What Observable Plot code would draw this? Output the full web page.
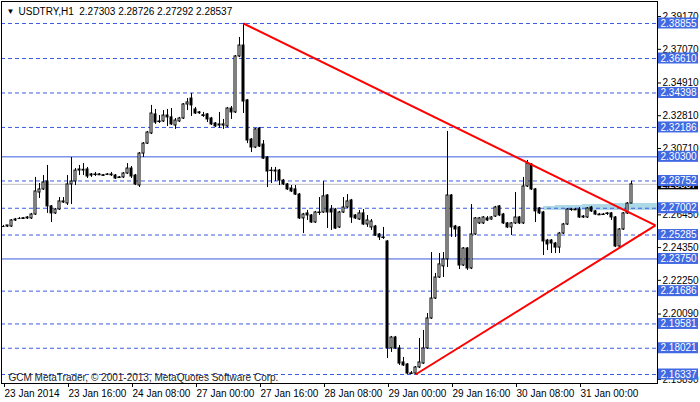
<!DOCTYPE html>
<html><head><meta charset="utf-8">
<script src="https://cdn.jsdelivr.net/npm/d3@7"></script>
<script src="https://cdn.jsdelivr.net/npm/@observablehq/plot@0.6"></script>
<style>body{margin:0;background:#fff;} svg{display:block;}</style>
</head><body><div id="chart"></div>
<script>
// ---- data (USDTRY, H1) ----
const titleText = "USDTRY,H1  2.27303 2.28726 2.27292 2.28537";
const copyright = "GCM MetaTrader, \u00A9 2001-2013, MetaQuotes Software Corp.";
const tickIdx = [0, 16, 32, 48, 64, 80, 96, 112, 128, 144];
const xLabels = ["23 Jan 2014", "23 Jan 16:00", "24 Jan 08:00", "27 Jan 00:00", "27 Jan 16:00",
  "28 Jan 08:00", "29 Jan 00:00", "29 Jan 16:00", "30 Jan 08:00", "31 Jan 00:00"];
const yTicks = [2.39170, 2.37070, 2.34910, 2.32810, 2.30710, 2.26450, 2.24350, 2.22250, 2.20090, 2.15890];
const dashedLevels = [2.38855, 2.36610, 2.34398, 2.32186, 2.28752, 2.27002, 2.25285, 2.21686, 2.19581, 2.18021, 2.16337];
const solidLevels = [2.30300, 2.23750];
const lastPrice = 2.28537;

const open = [
2.2583,2.2583,2.2583,2.2622,2.2635,2.2633,2.2635,2.2635,2.2660,2.2801,
2.2821,2.2872,2.2712,2.2667,2.2692,2.2737,2.2731,2.2853,2.2872,2.2942,
2.2942,2.2949,2.2917,2.2915,2.2917,2.2910,2.2914,2.2917,2.2910,2.2896,
2.2898,2.2923,2.2955,2.2910,2.2846,2.3051,2.3115,2.3180,2.3302,2.3255,
2.3257,2.3295,2.3283,2.3231,2.3257,2.3276,2.3366,2.3404,2.3334,2.3315,
2.3297,2.3302,2.3276,2.3244,2.3238,2.3231,2.3225,2.3340,2.3315,2.3674,
2.3744,2.3392,2.3141,2.3090,2.3212,2.3109,2.3026,2.2940,2.2936,2.2942,
2.2878,2.2853,2.2827,2.2821,2.2788,2.2635,2.2667,2.2654,2.2609,2.2671,
2.2673,2.2782,2.2692,2.2692,2.2577,2.2673,2.2705,2.2750,2.2654,2.2628,
2.2667,2.2596,2.2577,2.2583,2.2532,2.2511,2.2487,2.1801,2.1871,2.1801,
2.1711,2.1698,2.1638,2.1640,2.1679,2.1704,2.1801,2.1993,2.2121,2.2256,
2.2327,2.2372,2.2782,2.2583,2.2577,2.2333,2.2442,2.2314,2.2532,2.2603,
2.2603,2.2635,2.2628,2.2647,2.2712,2.2660,2.2603,2.2577,2.2603,2.2641,
2.2603,2.2840,2.2981,2.2821,2.2699,2.2673,2.2493,2.2493,2.2474,2.2448,
2.2538,2.2596,2.2690,2.2692,2.2692,2.2647,2.2641,2.2705,2.2680,2.2660,
2.2658,2.2665,2.2667,2.2641,2.2455,2.2564,2.2667,2.27303];
const high = [
2.2590,2.2590,2.2628,2.2635,2.2641,2.2641,2.2647,2.2667,2.2898,2.2859,
2.2910,2.2975,2.2718,2.2699,2.2769,2.2769,2.2910,2.3026,2.2955,2.2975,
2.2987,2.2962,2.2923,2.2930,2.2923,2.2917,2.2923,2.2930,2.2917,2.2904,
2.2930,2.2987,2.2968,2.2917,2.3058,2.3122,2.3193,2.3360,2.3334,2.3295,
2.3327,2.3334,2.3340,2.3276,2.3283,2.3372,2.3404,2.3436,2.3347,2.3321,
2.3315,2.3308,2.3283,2.3250,2.3315,2.3270,2.3347,2.3353,2.3680,2.3796,
2.38855,2.3398,2.3148,2.3212,2.3218,2.3135,2.3032,2.2962,2.2962,2.2949,
2.2885,2.2859,2.2846,2.2846,2.2795,2.2667,2.2686,2.2660,2.2680,2.2769,
2.2872,2.2788,2.2718,2.2699,2.2680,2.2769,2.2788,2.2757,2.2660,2.2686,
2.2692,2.2654,2.2628,2.2590,2.2538,2.2577,2.2493,2.1878,2.1878,2.1820,
2.1743,2.1704,2.1653,2.1685,2.1865,2.1916,2.2025,2.2416,2.2282,2.2410,
2.2416,2.3193,2.2788,2.2590,2.2583,2.2448,2.2448,2.2724,2.2641,2.2641,
2.2647,2.2647,2.2647,2.2712,2.2718,2.2667,2.2609,2.2609,2.2801,2.2647,
2.2898,2.3007,2.2987,2.2827,2.2705,2.2680,2.2500,2.2500,2.2481,2.2545,
2.2603,2.2699,2.2699,2.2699,2.2705,2.2654,2.2705,2.2712,2.2686,2.2667,
2.2667,2.2673,2.2673,2.2647,2.2570,2.2673,2.2737,2.28726];
const low = [
2.2577,2.2577,2.2577,2.2615,2.2628,2.2628,2.2628,2.2628,2.2654,2.2763,
2.2814,2.2667,2.2609,2.2660,2.2686,2.2731,2.2718,2.2724,2.2846,2.2910,
2.2910,2.2891,2.2898,2.2904,2.2910,2.2904,2.2910,2.2904,2.2885,2.2891,
2.2891,2.2917,2.2891,2.2846,2.2833,2.3026,2.3109,2.3173,2.3238,2.3244,
2.3250,2.3225,2.3231,2.3206,2.3250,2.3270,2.3327,2.3289,2.3302,2.3302,
2.3283,2.3250,2.3231,2.3218,2.3212,2.3206,2.3218,2.3270,2.3308,2.3667,
2.3308,2.3115,2.3058,2.3083,2.3090,2.3013,2.2833,2.2859,2.2872,2.2846,
2.2846,2.2814,2.2801,2.2782,2.2628,2.2538,2.2622,2.2603,2.2603,2.2654,
2.2667,2.2570,2.2558,2.2564,2.2570,2.2667,2.2699,2.2603,2.2628,2.2622,
2.2590,2.2577,2.2558,2.2519,2.2493,2.2500,2.1736,2.1775,2.1794,2.1692,
2.1685,2.1634,2.16337,2.1634,2.1672,2.1698,2.1794,2.1987,2.2115,2.2250,
2.2256,2.2320,2.2513,2.2513,2.2307,2.2327,2.2301,2.2307,2.2525,2.2596,
2.2596,2.2615,2.2622,2.2641,2.2647,2.2596,2.2570,2.2525,2.2596,2.2596,
2.2596,2.2833,2.2814,2.2609,2.2660,2.2397,2.2429,2.2410,2.2410,2.2410,
2.2532,2.2590,2.2680,2.2686,2.2635,2.2635,2.2635,2.2673,2.2654,2.2654,
2.2654,2.2654,2.2622,2.2448,2.2448,2.2558,2.2660,2.27292];
const close = [
2.2583,2.2590,2.2622,2.2628,2.2635,2.2636,2.2641,2.2660,2.2808,2.2821,
2.2866,2.2712,2.2667,2.2692,2.2744,2.2744,2.2853,2.2872,2.2942,2.2949,
2.2947,2.2904,2.2910,2.2917,2.2915,2.2912,2.2917,2.2915,2.2891,2.2898,
2.2923,2.2955,2.2904,2.2853,2.3051,2.3115,2.3186,2.3308,2.3250,2.3257,
2.3295,2.3283,2.3238,2.3263,2.3276,2.3366,2.3379,2.3360,2.3308,2.3310,
2.3295,2.3270,2.3238,2.3225,2.3231,2.3238,2.3340,2.3315,2.3674,2.3744,
2.3385,2.3135,2.3090,2.3206,2.3096,2.3019,2.2936,2.2942,2.2942,2.2878,
2.2853,2.2821,2.2808,2.2788,2.2635,2.2660,2.2654,2.2609,2.2673,2.2673,
2.2776,2.2673,2.2673,2.2570,2.2673,2.2705,2.2744,2.2641,2.2635,2.2667,
2.2596,2.2622,2.2615,2.2525,2.2513,2.2513,2.1801,2.1871,2.1801,2.1704,
2.1692,2.1640,2.1641,2.1679,2.1711,2.1801,2.1993,2.2121,2.2256,2.2340,
2.2372,2.2782,2.2577,2.2564,2.2333,2.2442,2.2314,2.2532,2.2635,2.2635,
2.2641,2.2622,2.2641,2.2705,2.2654,2.2603,2.2577,2.2603,2.2641,2.2603,
2.2840,2.2987,2.2821,2.2680,2.2667,2.2487,2.2468,2.2474,2.2448,2.2538,
2.2596,2.2692,2.2692,2.2690,2.2641,2.2641,2.2699,2.2680,2.2660,2.2658,
2.2660,2.2667,2.2641,2.2455,2.2564,2.2667,2.27303,2.28537];

// light-blue zone (bar index ranges and prices)
const bandStart = [135.1, 138.0, 144.7, 152.2];
const bandEnd = [138.0, 144.7, 152.2, 163.5];
const bandTop = [2.2712, 2.2718, 2.2724, 2.2731];
const bandBottom = [2.2686, 2.2686, 2.2686, 2.2686];

// red triangle lines: start bar/price -> apex bar/price
const trendStartBar = [60, 103];
const trendStartPrice = [2.38855, 2.16337];
const apexBar = 163;
const apexPrice = 2.2590;

// ---- build ----
const candles = open.map((o, i) => ({i, o, h: high[i], l: low[i], c: close[i]}));
const band = bandStart.map((s, k) => ({x1: s, x2: bandEnd[k], y1: bandBottom[k], y2: bandTop[k]}));
const trends = trendStartBar.map((b, k) => ({x1: b, y1: trendStartPrice[k], x2: apexBar, y2: apexPrice}));
const allLevels = [...dashedLevels, ...solidLevels];
const xEnd = 163.5;
const lineBlue = "#3c5ce0";
const boxBlue = "#4169e1";
const font = "'Liberation Sans', Arial, sans-serif";

const chart = Plot.plot({
  width: 700, height: 402,
  marginLeft: 1, marginRight: 43, marginTop: 1, marginBottom: 19,
  x: {type: "linear", domain: [-0.5, xEnd]},
  y: {domain: [2.15760, 2.40266]},
  style: {fontFamily: font, fontSize: "10px", background: "white", color: "black"},
  marks: [
    Plot.rect(band, {x1: "x1", x2: "x2", y1: "y1", y2: "y2", fill: "#add8e6"}),
    Plot.ruleY(dashedLevels, {stroke: lineBlue, strokeDasharray: "4,3"}),
    Plot.ruleY(solidLevels, {stroke: lineBlue}),
    Plot.ruleY([lastPrice], {stroke: "#c0c0c0"}),
    Plot.ruleX(candles, {x: "i", y1: "l", y2: "h", stroke: "black"}),
    Plot.rect(candles.filter(d => d.c >= d.o), {x1: d => d.i - 0.25, x2: d => d.i + 0.25, y1: "o", y2: "c", fill: "white", stroke: "black"}),
    Plot.rect(candles.filter(d => d.c < d.o), {x1: d => d.i - 0.25, x2: d => d.i + 0.25, y1: "o", y2: "c", fill: "black", stroke: "black"}),
    Plot.ruleY(candles.filter(d => Math.abs(d.c - d.o) < 0.0003), {y: "c", x1: d => d.i - 0.375, x2: d => d.i + 0.375, stroke: "black"}),
    Plot.link(trends, {x1: "x1", y1: "y1", x2: "x2", y2: "y2", stroke: "#ff0000", strokeWidth: 2}),
    Plot.frame({stroke: "black"}),
    Plot.text([copyright], {frameAnchor: "bottom-left", dx: 7, dy: -3, textAnchor: "start", lineAnchor: "bottom", fill: "#222", fontSize: 10}),
    Plot.text(["\u25BC"], {frameAnchor: "top-left", dx: 5, dy: 10, textAnchor: "start", lineAnchor: "middle", fontSize: 8}),
    Plot.text([titleText], {frameAnchor: "top-left", dx: 17, dy: 10, textAnchor: "start", lineAnchor: "middle", fontSize: 10}),
    Plot.axisX(tickIdx, {anchor: "bottom", tickSize: 4, tickPadding: 2, textAnchor: "start", dx: 1,
      tickFormat: d => xLabels[tickIdx.indexOf(d)], label: null, fontSize: 10}),
    Plot.axisY(yTicks, {anchor: "right", tickSize: 3, tickPadding: 2, textAnchor: "start", dy: -2,
      tickFormat: d => d.toFixed(5), label: null, fontSize: 10}),
    Plot.rect([lastPrice], {x1: () => xEnd, x2: () => xEnd, y1: d => d, y2: d => d,
      insetLeft: 1, insetRight: -41, insetTop: -5.5, insetBottom: -5.5, fill: "black"}),
    Plot.text([lastPrice], {x: () => xEnd, y: d => d, dx: 3, textAnchor: "start", fill: "white", text: d => d.toFixed(5), fontSize: 10}),
    Plot.rect(allLevels, {x1: () => xEnd, x2: () => xEnd, y1: d => d, y2: d => d,
      insetLeft: 1, insetRight: -41, insetTop: -5.5, insetBottom: -5.5, fill: boxBlue}),
    Plot.text(allLevels, {x: () => xEnd, y: d => d, dx: 3, textAnchor: "start", fill: "white", text: d => d.toFixed(5), fontSize: 10})
  ]
});
document.getElementById("chart").appendChild(chart);
</script>
</body></html>
